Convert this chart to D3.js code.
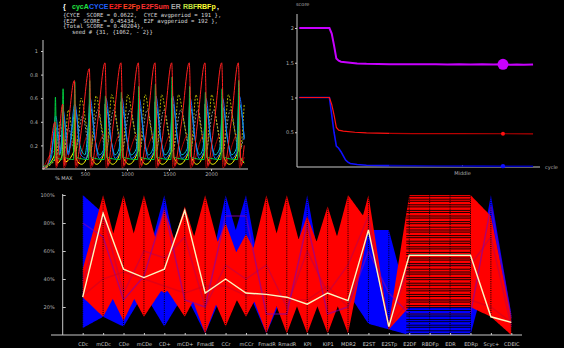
<!DOCTYPE html>
<html><head><meta charset="utf-8">
<script src="https://cdn.jsdelivr.net/npm/d3@7"></script>
<style>html,body{margin:0;padding:0;background:#000;overflow:hidden}svg{display:block}</style>
</head><body>
<svg id="c" width="564" height="348"></svg>
<script>
// ---------------- DATA ----------------
// top-left time series: flat [t, v, t, v, ...]
const tsRed = [0,0,60,0.05,143,0.40,160,0.03,234,0.55,255,0.03,300,0.35,373,0.75,395,0.03,460,0.35,551,0.85,580,0.03,650,0.4,738,0.90,770,0.03,840,0.4,928,0.90,960,0.03,1045,0.4,1135,0.90,1167,0.03,1245,0.4,1333,0.90,1365,0.03,1445,0.4,1532,0.90,1564,0.03,1650,0.4,1741,0.90,1773,0.03,1840,0.4,1928,0.90,1960,0.03,2040,0.4,2127,0.90,2159,0.03,2240,0.4,2325,0.90,2357,0.03,2395,0.2];
const tsGreen = [0,0.02,133,0.08,148,0.61,163,0.1,224,0.08,239,0.68,254,0.1,363,0.08,378,0.74,393,0.1,541,0.08,556,0.75,571,0.1,728,0.08,743,0.62,758,0.1,918,0.08,933,0.65,948,0.1,1125,0.08,1140,0.7,1155,0.1,1323,0.08,1338,0.72,1353,0.1,1522,0.08,1537,0.78,1552,0.1,1731,0.08,1746,0.7,1761,0.1,1918,0.08,1933,0.65,1948,0.1,2117,0.08,2132,0.68,2147,0.1,2315,0.08,2330,0.75,2345,0.1,2395,0.06];
const tsBlue = [0,0,100,0.1,150,0.45,210,0.15,240,0.5,300,0.12,380,0.55,450,0.12,520,0.09,560,0.6,620,0.25,670,0.09,720,0.14,748,0.6,810,0.25,860,0.09,910,0.14,938,0.6,1000,0.25,1055,0.09,1115,0.14,1145,0.6,1205,0.25,1255,0.09,1313,0.14,1343,0.62,1403,0.25,1453,0.09,1512,0.14,1542,0.62,1602,0.25,1652,0.09,1721,0.14,1751,0.6,1811,0.25,1858,0.09,1908,0.14,1938,0.6,1998,0.25,2050,0.09,2107,0.14,2137,0.6,2197,0.25,2250,0.09,2305,0.14,2335,0.62,2395,0.25];
const tsCyan = [0,0,80,0.08,158,0.35,200,0.12,249,0.42,300,0.14,388,0.5,440,0.2,500,0.12,566,0.52,620,0.25,670,0.12,720,0.16,753,0.52,808,0.25,858,0.12,905,0.17,943,0.52,998,0.25,1050,0.12,1110,0.17,1150,0.52,1205,0.25,1255,0.12,1308,0.17,1348,0.52,1403,0.25,1453,0.12,1507,0.17,1547,0.55,1602,0.25,1652,0.12,1716,0.17,1756,0.52,1811,0.25,1861,0.12,1903,0.17,1943,0.52,1998,0.25,2048,0.12,2102,0.17,2142,0.52,2197,0.25,2247,0.12,2300,0.17,2340,0.55,2395,0.26];
const tsYellow = [0,0,138,0.12,146,0.3,170,0.05,229,0.12,237,0.4,260,0.06,368,0.15,376,0.5,398,0.08,460,0.04,546,0.15,554,0.55,576,0.1,640,0.04,733,0.15,741,0.55,763,0.1,830,0.04,923,0.15,931,0.57,953,0.1,1025,0.04,1130,0.15,1138,0.55,1160,0.1,1225,0.04,1328,0.15,1336,0.57,1358,0.1,1420,0.04,1527,0.15,1535,0.6,1557,0.1,1630,0.04,1736,0.15,1744,0.55,1766,0.1,1830,0.04,1923,0.15,1931,0.55,1953,0.1,2020,0.04,2122,0.15,2130,0.55,2152,0.1,2220,0.04,2320,0.15,2328,0.58,2350,0.1,2395,0.05];
const tsOlive = [0,0,163,0.1,200,0.4,254,0.15,300,0.5,350,0.3,393,0.15,453,0.6,520,0.35,571,0.15,631,0.62,700,0.35,758,0.15,818,0.63,888,0.35,948,0.15,1008,0.63,1085,0.35,1155,0.15,1215,0.63,1283,0.35,1353,0.15,1413,0.63,1482,0.35,1552,0.15,1612,0.63,1690,0.35,1761,0.15,1821,0.63,1878,0.35,1948,0.15,2008,0.63,2077,0.35,2147,0.15,2207,0.63,2275,0.35,2345,0.15,2395,0.55];
const tsGray = [0,0,153,0.1,220,0.3,244,0.12,300,0.35,383,0.15,470,0.45,561,0.15,650,0.5,748,0.15,840,0.5,938,0.15,1035,0.5,1145,0.15,1240,0.5,1343,0.15,1440,0.5,1542,0.15,1640,0.5,1751,0.15,1840,0.5,1938,0.15,2030,0.5,2137,0.15,2230,0.5,2335,0.15,2395,0.3];
const tsDarkRed = [0,0,138,0.15,158,0.01,229,0.2,249,0.01,368,0.25,388,0.01,546,0.3,566,0.01,733,0.3,753,0.01,923,0.3,943,0.01,1130,0.3,1150,0.01,1328,0.3,1348,0.01,1527,0.3,1547,0.01,1736,0.3,1756,0.01,1923,0.3,1943,0.01,2122,0.3,2142,0.01,2320,0.3,2340,0.01,2395,0.1];
const tlXTicks = [500,1000,1500,2000];
const tlYTicks = [0.2,0.4,0.6,0.8,1];

// top-right score curves: [cycle, score]
const scMagenta = [[1,2.0],[14,2.0],[15,1.92],[16,1.75],[17,1.56],[18,1.53],[19,1.515],[22,1.505],[26,1.49],[30,1.485],[40,1.48],[50,1.48],[60,1.478],[65,1.475],[70,1.478],[75,1.474],[80,1.478],[85,1.476],[89,1.478],[92,1.472],[95,1.476],[98,1.472],[102,1.476]];
const scRedA = [[1,1.0],[14,1.0],[15,0.9],[16,0.75],[17,0.57],[18,0.53],[20,0.515],[25,0.50],[30,0.49],[40,0.485]];
const scRedB = [[40,0.485],[50,0.48],[70,0.48],[102,0.478]];
const scBlueA = [[1,1.0],[14,1.0],[15,0.75],[16,0.5],[17,0.3],[18,0.27],[19,0.22],[20,0.16],[21,0.1],[22,0.07],[23,0.05],[26,0.035],[30,0.025],[40,0.02]];
const scBlueB = [[40,0.02],[60,0.015],[80,0.012],[102,0.01]];
const scMarkX = 89;
const trYTicks = [0.5,1,1.5,2];

// parallel coordinates (values in % of max)
const pcAxes = ["CDc","mCDc","CDe","mCDe","CD+","mCD+","FmadE","CCr","mCCr","FmadR","RmadR","KPI","KIP1","MDR2","E2ST","E2STp","E2DF","RBDFp","EDR","EDRp","Scyc+","CDEIC"];
const pcRed = [
 [47,100,45,100,45,92,45,80,40,100,45,85,45,100,80,8,100,100,100,100,85,13],
 [30,45,100,45,90,45,100,45,72,45,100,45,92,45,100,6,90,90,90,90,60,10],
 [27,13,40,13,35,13,40,6,40,1,40,1,40,1,75,4,20,20,20,20,13,0],
 [35,40,10,40,30,40,1,40,13,40,1,40,1,40,80,5,25,25,25,25,40,2]
];
const pcBlue = [
 [100,87,40,45,100,30,30,100,50,20,20,100,20,25,75,75,20,20,20,20,100,15],
 [100,87,40,45,100,30,30,50,100,20,20,100,20,25,75,75,20,20,20,20,100,15],
 [5,13,6,30,6,30,1,35,35,1,35,30,30,30,8,4,0,0,0,0,55,5]
];
const pcMixed = [
 [38,85,30,60,55,70,20,50,40,50,20,60,30,50,85,6,50,50,50,50,70,6],
 [80,70,25,42,90,25,20,85,85,15,15,80,15,20,60,30,15,15,15,15,92,12],
 [28,40,45,40,35,30,35,35,28,30,25,25,35,20,78,5,25,25,25,25,20,9]
];
const pcMixedColors = ["#c00048","#8000b0","#d00020"];
const pcHighlight = [27,87,47,41,47,89,30,40,30,29,27,22,30,24.5,75,6,57,57,57,57,13,9];
const pcStripeLevels = [1,3,5.5,7,9.5,11,13.5,15,17.5,19.5,21,23.5,25,27.5,29,31.5,33,35.5,37,39.5,41,43.5,45,47,49.5,51,53.5,55,57.5,59,61.5,63,65.5,67,69.5,71,73.5,75,77,79.5,81,83.5,85,87.5,89,91.5,93,95.5,97,99];
const pcYTicks = [20,40,60,80,100];

// ---------------- DRAW ----------------
const svg = d3.select("#c");
svg.append("rect").attr("width",564).attr("height",348).attr("fill","#000");
const AX = "#c8c8c8";
const toPairs = a => { const r=[]; for(let i=0;i<a.length;i+=2) r.push([a[i],a[i+1]]); return r; };

// ---- header text ----
const hdr = svg.append("text").attr("y",8.5).attr("font-family","Liberation Sans, Arial, sans-serif").attr("font-weight","bold").attr("font-size",7);
[["{",63,"#ffffff"],["cycA",72,"#20e040"],["CYCE",89,"#2060ff"],["E2F",109,"#ff2020"],["E2Fp",123,"#ff4020"],["E2FSum",141,"#ff3030"],["ER",171,"#a8a8a8"],["RBF",183,"#c0e040"],["RBFp",197,"#ffff30"],[",",217,"#ffffff"]]
 .forEach(([t,x,c])=>hdr.append("tspan").attr("x",x).attr("fill",c).text(t));
const infoLines = [["{CYCE  SCORE = 0.0622,  CYCE avgperiod = 191 },",63,17],["{E2F  SCORE = 0.45434,  E2F avgperiod = 192 },",63,22.5],["{Total SCORE = 0.40204},",63,28],["seed # {31, {1062, - 2}}",72,34]];
infoLines.forEach(([t,x,y])=>svg.append("text").attr("x",x).attr("y",y).attr("fill","#d8d8d8").attr("font-family","DejaVu Sans Mono, monospace").attr("font-size",5.6).attr("xml:space","preserve").text(t));

// ---- top-left chart ----
const tx = d3.scaleLinear().domain([0,2440]).range([43,248]);
const ty = d3.scaleLinear().domain([0,1]).range([169,51]);
const tl = svg.append("g");
const tlLine = d3.line().x(d=>tx(d[0])).y(d=>ty(d[1])).curve(d3.curveMonotoneX);
[[tsGray,"#909090","2,1.5"],[tsOlive,"#b0b000","2,1.5"],[tsDarkRed,"#b00000",null],[tsYellow,"#ffff00",null],[tsCyan,"#00c8c8",null],[tsBlue,"#1a6cff",null],[tsGreen,"#00d040",null],[tsRed,"#ff2020",null]]
 .forEach(([d,c,dash])=>{
   const p = tl.append("path").attr("d",tlLine(toPairs(d))).attr("fill","none").attr("stroke",c).attr("stroke-width",1);
   if(dash) p.attr("stroke-dasharray",dash);
 });
tl.append("line").attr("x1",tx(0)).attr("x2",tx(0)).attr("y1",ty(0)).attr("y2",40).attr("stroke",AX);
tl.append("line").attr("x1",tx(0)-1).attr("x2",248).attr("y1",ty(0)).attr("y2",ty(0)).attr("stroke",AX);
const tlxa = tl.append("g").attr("transform",`translate(0,${ty(0)})`).call(d3.axisBottom(tx).tickValues(tlXTicks).tickSize(2).tickPadding(1).tickFormat(d3.format("d")));
const tlya = tl.append("g").attr("transform",`translate(${tx(0)},0)`).call(d3.axisLeft(ty).tickValues(tlYTicks).tickSize(2).tickPadding(3).tickFormat(d=>d===1?"1":d3.format(".1f")(d)));
[tlxa,tlya].forEach(g=>{g.select(".domain").remove(); g.selectAll("line").attr("stroke",AX); g.selectAll("text").attr("fill","#b0b0b0").attr("font-size",5).attr("font-family","DejaVu Sans, sans-serif");});
svg.append("text").attr("x",55).attr("y",180).attr("fill","#c0c0c0").attr("font-size",5).attr("font-family","DejaVu Sans, sans-serif").text("% MAX");

// ---- top-right chart ----
const rx = d3.scaleLinear().domain([0,105]).range([297,540]);
const ry = d3.scaleLinear().domain([0,2]).range([167,28]);
const tr = svg.append("g");
const rLine = d3.line().x(d=>rx(d[0])).y(d=>ry(d[1]));
tr.append("line").attr("x1",rx(0)).attr("x2",rx(0)).attr("y1",ry(0)).attr("y2",14).attr("stroke",AX);
tr.append("line").attr("x1",rx(0)).attr("x2",rx(105)).attr("y1",ry(0)).attr("y2",ry(0)).attr("stroke",AX);
const trya = tr.append("g").attr("transform",`translate(${rx(0)},0)`).call(d3.axisLeft(ry).tickValues(trYTicks).tickSize(2).tickPadding(1).tickFormat(d=>String(d)));
trya.select(".domain").remove(); trya.selectAll("line").attr("stroke",AX);
trya.selectAll("text").attr("fill","#b0b0b0").attr("font-size",5).attr("font-family","DejaVu Sans, sans-serif");
tr.append("line").attr("x1",rx(71.5)).attr("x2",rx(71.5)).attr("y1",ry(0)).attr("y2",ry(0)-2).attr("stroke",AX);
tr.append("text").attr("x",rx(71.5)).attr("y",175).attr("text-anchor","middle").attr("fill","#b0b0b0").attr("font-size",5).attr("font-family","DejaVu Sans, sans-serif").text("Middle");
tr.append("text").attr("x",296).attr("y",6).attr("fill","#b0b0b0").attr("font-size",5).attr("font-family","DejaVu Sans, sans-serif").text("score");
tr.append("text").attr("x",545).attr("y",169).attr("fill","#b0b0b0").attr("font-size",5).attr("font-family","DejaVu Sans, sans-serif").text("cycle");
tr.append("path").attr("d",rLine(scBlueA)).attr("fill","none").attr("stroke","#1010ff").attr("stroke-width",1.6);
tr.append("path").attr("d",rLine(scBlueB)).attr("fill","none").attr("stroke","#0000b8").attr("stroke-width",1.6);
tr.append("path").attr("d",rLine(scRedA)).attr("fill","none").attr("stroke","#ff1010").attr("stroke-width",1.2);
tr.append("path").attr("d",rLine(scRedB)).attr("fill","none").attr("stroke","#b80000").attr("stroke-width",1.2);
tr.append("path").attr("d",rLine(scMagenta)).attr("fill","none").attr("stroke","#c800ff").attr("stroke-width",2);
tr.append("circle").attr("cx",rx(scMarkX)).attr("cy",ry(1.478)).attr("r",5.5).attr("fill","#c800ff");
tr.append("circle").attr("cx",rx(scMarkX)).attr("cy",ry(0.48)).attr("r",2).attr("fill","#ff1010");
tr.append("circle").attr("cx",rx(scMarkX)).attr("cy",ry(0.012)).attr("r",2.2).attr("fill","#1010ff");

// ---- parallel coordinates ----
const px = d3.scalePoint().domain(pcAxes).range([82.7,511.3]);
const py = d3.scaleLinear().domain([0,100]).range([335,195]);
const pc = svg.append("g");
function envelope(recs){
  const up=[], lo=[], N=40;
  for(let i=0;i<pcAxes.length-1;i++){
    const x0=px(pcAxes[i]), x1=px(pcAxes[i+1]);
    for(let k=(i===0?0:1);k<=N;k++){
      const t=k/N; let mx=-1e9, mn=1e9;
      recs.forEach(r=>{const v=r[i]+(r[i+1]-r[i])*t; if(v>mx)mx=v; if(v<mn)mn=v;});
      const x=x0+(x1-x0)*t;
      up.push([x,py(mx)]); lo.push([x,py(mn)]);
    }
  }
  return "M"+up.map(p=>p.join(",")).join("L")+"L"+lo.reverse().map(p=>p.join(",")).join("L")+"Z";
}
const pLine = d3.line().x((d,i)=>px(pcAxes[i])).y(d=>py(d));
pc.append("path").attr("d",envelope(pcBlue)).attr("fill","#0000ff");
pc.append("path").attr("d",envelope(pcRed)).attr("fill","#ff0000");
pcMixed.forEach((r,i)=>pc.append("path").attr("d",pLine(r)).attr("fill","none").attr("stroke",pcMixedColors[i]).attr("stroke-width",1.5).attr("opacity",0.6));
// stripes across E2DF..EDRp
pcStripeLevels.forEach(v=>pc.append("line").attr("x1",px("E2DF")-3).attr("x2",px("EDRp")).attr("y1",py(v)).attr("y2",py(v)).attr("stroke","#000").attr("stroke-width",0.9));
// dotted axis lines
pcAxes.forEach(a=>pc.append("line").attr("x1",px(a)).attr("x2",px(a)).attr("y1",py(0)).attr("y2",py(100)).attr("stroke","#000").attr("stroke-width",1).attr("stroke-dasharray","1,1.2"));
// highlight
pc.append("path").attr("d",pLine(pcHighlight)).attr("fill","none").attr("stroke","#fbf8c0").attr("stroke-width",1.4);
// axes
pc.append("line").attr("x1",62.7).attr("x2",62.7).attr("y1",py(100)-1).attr("y2",py(0)).attr("stroke",AX);
pc.append("line").attr("x1",51).attr("x2",522).attr("y1",py(0)).attr("y2",py(0)).attr("stroke",AX);
const pya = pc.append("g").attr("transform","translate(62.7,0)").call(d3.axisRight(py).tickValues(pcYTicks).tickSize(3).tickFormat(d=>d+"%"));
pya.select(".domain").remove(); pya.selectAll("line").attr("stroke",AX);
pya.selectAll("text").attr("x",-8).attr("text-anchor","end").attr("fill","#b0b0b0").attr("font-size",5).attr("font-family","DejaVu Sans, sans-serif");
const pxa = pc.append("g").attr("transform",`translate(0,${py(0)})`).call(d3.axisBottom(px).tickSize(0).tickPadding(7));
pxa.select(".domain").remove();
pxa.selectAll(".tick").append("line").attr("y1",0).attr("y2",-2).attr("stroke",AX);
pxa.selectAll("text").attr("fill","#c8c8c8").attr("font-size",5).attr("font-family","DejaVu Sans, sans-serif");
</script></body></html>
